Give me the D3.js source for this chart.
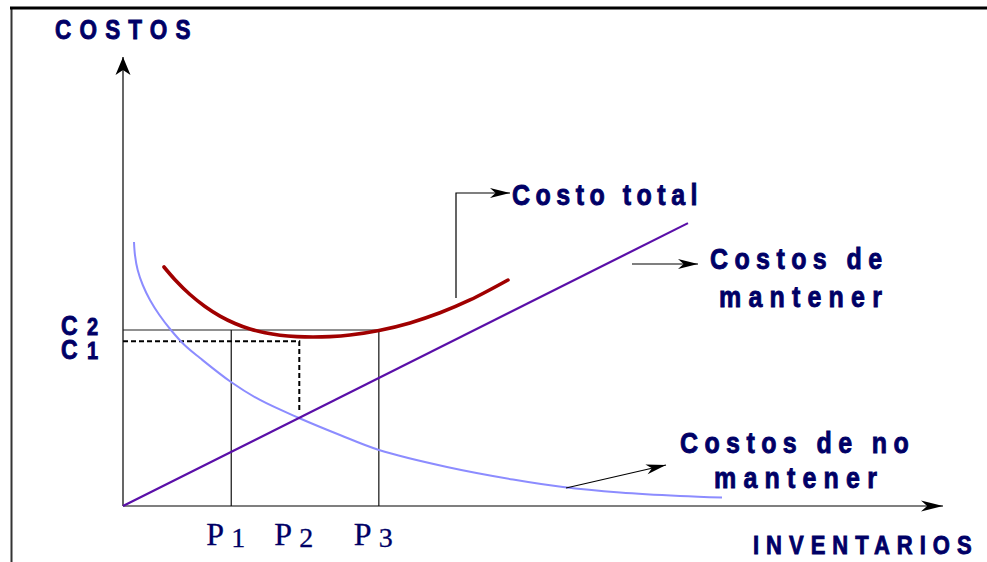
<!DOCTYPE html>
<html><head><meta charset="utf-8">
<script src="https://cdn.jsdelivr.net/npm/d3@7"></script>
<style>html,body{margin:0;padding:0;background:#fff;overflow:hidden}</style>
</head><body>
<svg id="chart" width="987" height="562"></svg>
<script>
// ---- data (value units: 0..100 on both axes) ----
const noMantenerX = [1.34, 1.46, 1.79, 2.41, 3.29, 4.44, 5.84, 7.50, 9.39, 13.17, 16.71, 21.46, 26.46, 31.22, 39.51, 47.56, 53.66, 60.61, 67.93, 73.05];
const noMantenerY = [58.80, 55.90, 52.56, 49.22, 45.88, 42.54, 39.20, 35.86, 32.96, 27.62, 23.61, 19.60, 15.81, 12.47, 8.69, 5.90, 4.23, 3.01, 2.23, 1.89];
const costoTotalX = [5.00, 6.34, 8.17, 10.00, 11.83, 13.66, 15.49, 17.32, 19.15, 21.22, 23.17, 25.24, 27.68, 31.22, 35.00, 38.66, 42.32, 46.95];
const costoTotalY = [53.23, 50.40, 47.10, 44.43, 42.29, 40.65, 39.42, 38.57, 38.04, 37.73, 37.64, 37.73, 38.08, 39.09, 40.78, 43.03, 45.88, 50.33];
const mantenerX = [0, 68.9];
const mantenerY = [0, 63.0];
const pNames = ["1", "2", "3"];
const pValues = [13.2, 21.5, 31.2];
const cNames = ["2", "1"];
const cValues = [39.2, 36.7];
const yTitle = "COSTOS";
const xTitle = "INVENTARIOS";
const labelCostoTotal = ["Costo total"];
const labelMantener = ["Costos de", "mantener"];
const labelNoMantener = ["Costos de no", "mantener"];

// ---- drawing ----
const svg = d3.select("#chart");
const x = d3.scaleLinear().domain([0, 100]).range([123, 943]);
const y = d3.scaleLinear().domain([0, 100]).range([506, 57]);
const NAVY = "#000066";
const SANS = "'Liberation Sans', Arial, sans-serif";
const SERIF = "'Liberation Serif', 'Times New Roman', serif";
const STRETCH = 1.2;

// frame
svg.append("line").attr("x1", 11.5).attr("x2", 11.5).attr("y1", 8).attr("y2", 562)
  .attr("stroke", "#333").attr("stroke-width", 2);
svg.append("line").attr("x1", 10).attr("x2", 987).attr("y1", 8).attr("y2", 8)
  .attr("stroke", "#000").attr("stroke-width", 3);

// arrow heads (stealth style)
function head(tipX, tipY, angle, len, wid) {
  const p = `M0,0 L${-len},${-wid/2} L${-len*0.72},0 L${-len},${wid/2} Z`;
  svg.append("path").attr("d", p).attr("fill", "#000")
    .attr("transform", `translate(${tipX},${tipY}) rotate(${angle})`);
}
function arrowLine(pts, len, wid) {
  svg.append("path").attr("d", d3.line()(pts)).attr("fill", "none")
    .attr("stroke", "#000").attr("stroke-width", 1.2);
  const a = pts[pts.length-2], b = pts[pts.length-1];
  const ang = Math.atan2(b[1]-a[1], b[0]-a[0]) * 180 / Math.PI;
  head(b[0], b[1], ang, len, wid);
}

// axes
arrowLine([[x(0), y(0)], [x(0), y(100)]], 18, 15);
arrowLine([[x(0), y(0)], [x(100), y(0)]], 22, 11);

// reference lines
svg.append("line").attr("x1", x(0)).attr("x2", x(pValues[2])).attr("y1", y(cValues[0])).attr("y2", y(cValues[0]))
  .attr("stroke", "#222").attr("stroke-width", 1.2);
[0, 2].forEach(i => {
  svg.append("line").attr("x1", x(pValues[i])).attr("x2", x(pValues[i]))
    .attr("y1", y(cValues[0])).attr("y2", y(0)).attr("stroke", "#111").attr("stroke-width", 1.2);
});
svg.append("path")
  .attr("d", d3.line()([[x(0), y(cValues[1])], [x(pValues[1]), y(cValues[1])], [x(pValues[1]), y(noMantenerY[11]) - 6]]))
  .attr("fill", "none").attr("stroke", "#000").attr("stroke-width", 2).attr("stroke-dasharray", "5,3");

// series
const lineGen = d3.line().x(d => x(d[0])).y(d => y(d[1])).curve(d3.curveCatmullRom.alpha(0.5));
svg.append("path").attr("d", lineGen(noMantenerX.map((v, i) => [v, noMantenerY[i]])))
  .attr("fill", "none").attr("stroke", "#8c8cff").attr("stroke-width", 2);
svg.append("path").attr("d", lineGen(mantenerX.map((v, i) => [v, mantenerY[i]])))
  .attr("fill", "none").attr("stroke", "#5a0fa8").attr("stroke-width", 2.2);
svg.append("path").attr("d", lineGen(costoTotalX.map((v, i) => [v, costoTotalY[i]])))
  .attr("fill", "none").attr("stroke", "#a00000").attr("stroke-width", 3.6).attr("stroke-linecap", "round");

// text helper (vertically stretched bold sans text)
function stext(tx, ty, str, size, spacing) {
  return svg.append("text").attr("transform", `translate(${tx},${ty}) scale(1,${STRETCH})`)
    .attr("font-family", SANS).attr("font-weight", "bold").attr("font-size", size)
    .attr("letter-spacing", spacing).attr("fill", NAVY)
    .attr("stroke", NAVY).attr("stroke-width", 0.75).text(str);
}

// axis titles
stext(55, 39, yTitle, 22.5, 8.2);
stext(753, 554, xTitle, 22, 7);

// C labels
cNames.forEach((n, i) => {
  const t = svg.append("text").attr("transform", `translate(61,${y(cValues[i]) + (i === 0 ? 5 : 18)}) scale(1,${STRETCH})`)
    .attr("font-family", SANS).attr("font-weight", "bold").attr("fill", NAVY)
    .attr("stroke", NAVY).attr("stroke-width", 0.75);
  t.append("tspan").attr("font-size", 23).text("C");
  t.append("tspan").attr("x", 26).attr("font-size", 20).text(n);
});

// P labels
pNames.forEach((n, i) => {
  const t = svg.append("text").attr("x", x(pValues[i]) - 25).attr("y", 545)
    .attr("font-family", SERIF).attr("fill", NAVY).attr("stroke", NAVY).attr("stroke-width", 0.3);
  t.append("tspan").attr("font-size", 32).text("P");
  t.append("tspan").attr("x", x(pValues[i])).attr("dy", 1.5).attr("font-size", 28).text(n);
});

// annotations
arrowLine([[456, 298], [456, 193], [510, 193]], 20, 10);
stext(512, 205, labelCostoTotal[0], 25, 5.5);

arrowLine([[632, 264], [698, 264]], 20, 10);
stext(710, 269, labelMantener[0], 25, 6.4);
stext(719, 307, labelMantener[1], 25, 7.2);

arrowLine([[566, 488], [666, 465]], 20, 10);
stext(680, 453, labelNoMantener[0], 25, 6.4);
stext(714, 488, labelNoMantener[1], 25, 7.2);
</script>
</body></html>
